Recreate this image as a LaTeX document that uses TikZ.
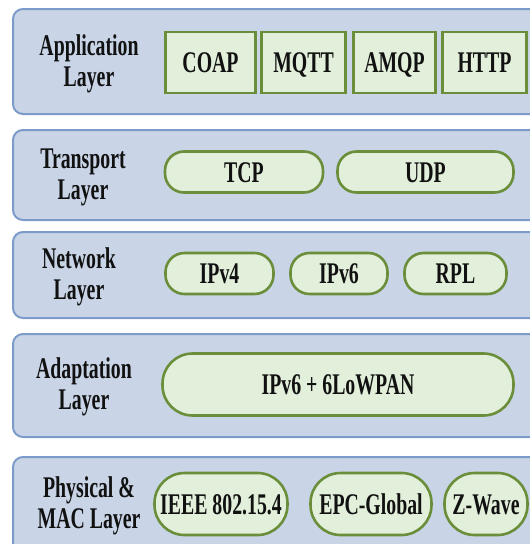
\documentclass[tikz,border=0pt]{standalone}
\usepackage{fontspec}
\setmainfont{Liberation Serif}[FakeStretch=0.66]
\definecolor{layerfill}{HTML}{C9D5E7}
\definecolor{layerline}{HTML}{7C9BC9}
\definecolor{itemfill}{HTML}{E2EFDA}
\definecolor{itemline}{HTML}{6B8E3B}
\definecolor{inktext}{HTML}{111111}
\tikzset{
  layerbox/.style={draw=layerline, fill=layerfill, line width=2pt,
    rounded corners=10pt, inner sep=0pt, anchor=north west},
  layername/.style={align=center, text=inktext,
    font=\fontsize{30}{31}\selectfont\bfseries, inner sep=0pt},
  itembase/.style={draw=itemline, fill=itemfill, line width=2.6pt,
    text=inktext, font=\fontsize{30}{31}\selectfont\bfseries,
    text height=20pt, text depth=0pt, inner sep=0pt},
  sqbox/.style={itembase, minimum height=61pt},
  pill/.style={itembase, rounded corners=19pt, minimum height=41pt},
  bigpill/.style={itembase, rounded corners=30pt, minimum height=62pt},
}
\begin{document}
\begin{tikzpicture}[x=1pt,y=-1pt]
\useasboundingbox (0,0) rectangle (530,544);
\clip (0,0) rectangle (530,544);

% layer bands (they run past the right and bottom edges)
\node[layerbox, minimum width=545pt, minimum height=105pt] (app) at (12,8) {};
\node[layerbox, minimum width=545pt, minimum height=90pt] (trans) at (12,129) {};
\node[layerbox, minimum width=545pt, minimum height=86pt] (net) at (12,231) {};
\node[layerbox, minimum width=545pt, minimum height=103pt] (adapt) at (12,333) {};
\node[layerbox, minimum width=545pt, minimum height=110pt] (phy) at (12,456) {};

% layer names
\node[layername] (appname) at (89,64) {Application\\Layer};
\node[layername] (transname) at (83,177) {Transport\\Layer};
\node[layername] (netname) at (79,277) {Network\\Layer};
\node[layername] (adaptname) at (84,387) {Adaptation\\Layer};
\node[layername] (phyname) at (89,506) {Physical \&\\MAC Layer};

% application protocols
\node[sqbox, minimum width=90pt] (coap) at (210.5,62.5) {COAP};
\node[sqbox, minimum width=84pt] (mqtt) at (303.5,62.5) {MQTT};
\node[sqbox, minimum width=82pt] (amqp) at (394.5,62.5) {AMQP};
\node[sqbox, minimum width=84pt] (http) at (484.5,62.5) {HTTP};

% transport protocols
\node[pill, minimum width=158pt] (tcp) at (244,172) {TCP};
\node[pill, minimum width=176pt] (udp) at (425.5,172) {UDP};

% network protocols
\node[pill, minimum width=108pt] (ipv4) at (219.5,273.5) {IPv4};
\node[pill, minimum width=97pt] (ipv6) at (339,273.5) {IPv6};
\node[pill, minimum width=102pt] (rpl) at (455.5,273.5) {RPL};

% adaptation
\node[bigpill, minimum width=351pt] (lowpan) at (338,384.5) {IPv6 + 6LoWPAN};

% physical and MAC
\node[bigpill, minimum width=133pt] (ieee) at (221,504) {IEEE 802.15.4};
\node[bigpill, minimum width=121pt] (epc) at (371,504) {EPC-Global};
\node[bigpill, minimum width=83pt] (zwave) at (486,504) {Z-Wave};
\end{tikzpicture}
\end{document}
